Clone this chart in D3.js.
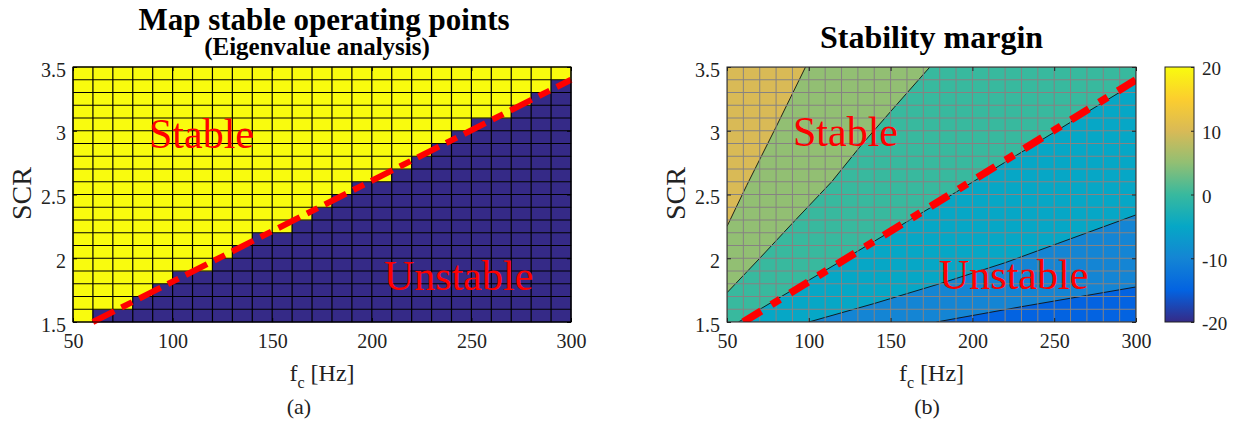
<!DOCTYPE html>
<html>
<head>
<meta charset="utf-8">
<script src="https://cdn.jsdelivr.net/npm/d3@7"></script>
<style>
  html, body { margin: 0; padding: 0; background: #fff; }
  svg text { font-family: "Liberation Serif", "Times New Roman", serif; }
</style>
</head>
<body>
<svg id="fig" width="1244" height="428"></svg>
<script>
// Sweep grid: converter bandwidth f_c [Hz] and short-circuit ratio
const fcEdges = [50,60,70,80,90,100,110,120,130,140,150,160,170,180,190,200,210,220,230,240,250,260,270,280,290,300];
const scrEdges = [1.5,1.6,1.7,1.8,1.9,2.0,2.1,2.2,2.3,2.4,2.5,2.6,2.7,2.8,2.9,3.0,3.1,3.2,3.3,3.4,3.5];

// For every f_c column: SCR up to which the eigenvalue analysis is unstable
const unstableUpTo = [1.5,1.6,1.6,1.7,1.8,1.9,1.9,2.0,2.1,2.2,2.2,2.3,2.4,2.5,2.6,2.6,2.7,2.8,2.9,3.0,3.1,3.1,3.2,3.3,3.4];

// Stability boundary drawn on both maps
const boundaryFc = [60, 300];
const boundaryScr = [1.5, 3.4];

// Axis ticks
const fcTicks = [50,100,150,200,250,300];
const scrTicks = [1.5,2,2.5,3,3.5];
const marginTicks = [-20,-10,0,10,20];

// Stability-margin iso-lines (f_c, SCR)
const contourLevels = [-10, -5, 0, 5, 10];
const contourM10 = [[178,1.5],[230,1.62],[300,1.775]];
const contourM5  = [[100,1.5],[140,1.645],[180,1.8],[220,1.965],[252,2.115],[300,2.34]];
const contour0   = [[57,1.5],[120,1.98],[180,2.44],[240,2.91],[300,3.38]];
const contourP5  = [[50,1.73],[70,2.0],[90,2.275],[114,2.6],[132,2.886],[152,3.18],[174,3.5]];
const contourP10 = [[50,2.25],[62,2.57],[80,3.03],[98,3.5]];
const contourLines = [contourM10, contourM5, contour0, contourP5, contourP10];
const marginLow = -15; // lowest filled band

// parula-like colormap over [-20, 20]
const parula = ["#352a87","#0363e1","#1485d4","#06a7c6","#38b99e","#92bf73","#d9ba56","#fcce2e","#f9fb0e"];
const color = d3.scaleLinear()
  .domain(parula.map((_, i) => -20 + 40 * i / (parula.length - 1)))
  .range(parula)
  .interpolate(d3.interpolateRgb);

const svg = d3.select("#fig");
svg.append("rect").attr("width", 1244).attr("height", 428).attr("fill", "#fff");
const defs = svg.append("defs");

const fcMin = fcEdges[0], fcMax = fcEdges[fcEdges.length - 1];
const scrMin = scrEdges[0], scrMax = scrEdges[scrEdges.length - 1];
const plotTop = 67, plotBottom = 322;

function axes(g, x, y, tickColor) {
  const fmt = d => String(d);
  const xa = g.append("g").attr("transform", `translate(0,${plotBottom})`)
    .call(d3.axisBottom(x).tickValues(fcTicks).tickSize(-4).tickPadding(12).tickFormat(fmt));
  const xt = g.append("g").attr("transform", `translate(0,${plotTop})`)
    .call(d3.axisTop(x).tickValues(fcTicks).tickSize(-4).tickFormat(""));
  const ya = g.append("g").attr("transform", `translate(${x.range()[0]},0)`)
    .call(d3.axisLeft(y).tickValues(scrTicks).tickSize(-4).tickPadding(7).tickFormat(fmt));
  const yr = g.append("g").attr("transform", `translate(${x.range()[1]},0)`)
    .call(d3.axisRight(y).tickValues(scrTicks).tickSize(-4).tickFormat(""));
  [xa, xt, ya, yr].forEach(a => {
    a.select(".domain").remove();
    a.selectAll("line").attr("stroke", tickColor);
    a.selectAll("text").attr("font-size", 20).attr("fill", "#222")
      .attr("font-family", "'Liberation Serif', serif");
  });
  ya.selectAll("text").attr("dy", "0.45em");
}

function labels(g, x, capX, caption) {
  const cx = (x.range()[0] + x.range()[1]) / 2;
  const xl = g.append("text").attr("x", cx).attr("y", 381)
    .attr("text-anchor", "middle").attr("font-size", 24).attr("fill", "#222");
  xl.append("tspan").text("f");
  xl.append("tspan").attr("font-size", 16).attr("dy", 7).text("c");
  xl.append("tspan").attr("dy", -7).text(" [Hz]");
  const yx = x.range()[0] - 42;
  g.append("text").attr("transform", `translate(${yx},${(plotTop + plotBottom) / 2 - 1}) rotate(-90)`)
    .attr("text-anchor", "middle").attr("font-size", 28).attr("fill", "#222").text("SCR");
  g.append("text").attr("x", capX).attr("y", 414).attr("text-anchor", "middle")
    .attr("font-size", 22).attr("fill", "#222").text(caption);
}

function boundary(g, x, y, width, dash) {
  g.append("line")
    .attr("x1", x(boundaryFc[0])).attr("y1", y(boundaryScr[0]))
    .attr("x2", x(boundaryFc[1])).attr("y2", y(boundaryScr[1]))
    .attr("stroke", "#ff0000").attr("stroke-width", width)
    .attr("stroke-dasharray", dash);
}

function regionText(g, txt, px, py) {
  g.append("text").attr("x", px).attr("y", py).attr("font-size", 42)
    .attr("fill", "#ff0000").text(txt);
}

// ---------- (a) stable / unstable map ----------
{
  const x = d3.scaleLinear().domain([fcMin, fcMax]).range([73, 571]);
  const y = d3.scaleLinear().domain([scrMin, scrMax]).range([plotBottom, plotTop]);
  const g = svg.append("g");

  const cells = [];
  for (let i = 0; i < fcEdges.length - 1; i++) {
    for (let j = 0; j < scrEdges.length - 1; j++) {
      cells.push({ f0: fcEdges[i], f1: fcEdges[i + 1], s0: scrEdges[j], s1: scrEdges[j + 1],
                   unstable: scrEdges[j + 1] <= unstableUpTo[i] + 1e-9 });
    }
  }
  g.append("g").selectAll("rect").data(cells).join("rect")
    .attr("x", d => x(d.f0)).attr("y", d => y(d.s1))
    .attr("width", d => x(d.f1) - x(d.f0)).attr("height", d => y(d.s0) - y(d.s1))
    .attr("fill", d => d.unstable ? color(-20) : color(20))
    .attr("stroke", d => d.unstable ? color(-20) : color(20)).attr("stroke-width", 0.6);

  const grid = g.append("g").attr("stroke", "#000").attr("stroke-width", 1.2);
  grid.selectAll("line.v").data(fcEdges).join("line").attr("class", "v")
    .attr("x1", d => x(d)).attr("x2", d => x(d)).attr("y1", plotTop).attr("y2", plotBottom);
  grid.selectAll("line.h").data(scrEdges).join("line").attr("class", "h")
    .attr("y1", d => y(d)).attr("y2", d => y(d)).attr("x1", x(fcMin)).attr("x2", x(fcMax));

  boundary(g, x, y, 6, "24,8,12,8");
  regionText(g, "Stable", 149, 148);
  regionText(g, "Unstable", 384, 290);

  g.append("rect").attr("x", 73).attr("y", plotTop).attr("width", 571 - 73).attr("height", plotBottom - plotTop)
    .attr("fill", "none").attr("stroke", "#000").attr("stroke-width", 1);
  axes(g, x, y, "#000");
  labels(g, x, 299, "(a)");

  g.append("text").attr("x", 324).attr("y", 30).attr("text-anchor", "middle")
    .attr("font-size", 31).attr("font-weight", "bold").attr("fill", "#000")
    .text("Map stable operating points");
  g.append("text").attr("x", 317).attr("y", 55).attr("text-anchor", "middle")
    .attr("font-size", 25).attr("font-weight", "bold").attr("fill", "#000")
    .text("(Eigenvalue analysis)");
}

// ---------- (b) stability margin ----------
{
  const x = d3.scaleLinear().domain([fcMin, fcMax]).range([727, 1136]);
  const y = d3.scaleLinear().domain([scrMin, scrMax]).range([plotBottom, plotTop]);
  const g = svg.append("g");

  defs.append("clipPath").attr("id", "clipB")
    .append("rect").attr("x", 727).attr("y", plotTop).attr("width", 1136 - 727).attr("height", plotBottom - plotTop);
  const plot = g.append("g").attr("clip-path", "url(#clipB)");

  // filled bands: everything starts in the lowest band, each iso-line lifts the region above it
  plot.append("rect").attr("x", 727).attr("y", plotTop).attr("width", 1136 - 727).attr("height", plotBottom - plotTop)
    .attr("fill", color(marginLow));
  const regionAbove = line => {
    const pts = line.slice();
    const s = pts[0], e = pts[pts.length - 1];
    if (e[0] >= fcMax) pts.push([fcMax, scrMax]);
    pts.push([fcMin, scrMax]);
    if (s[1] <= scrMin && s[0] > fcMin) pts.push([fcMin, scrMin]);
    return pts;
  };
  const path = d3.line().x(d => x(d[0])).y(d => y(d[1]));
  const bands = contourLevels.map((lv, k) => ({ level: lv, line: contourLines[k] }));
  plot.selectAll("path.band").data(bands).join("path").attr("class", "band")
    .attr("d", d => path(regionAbove(d.line)) + "Z")
    .attr("fill", d => color(d.level));
  plot.selectAll("path.iso").data(bands).join("path").attr("class", "iso")
    .attr("d", d => path(d.line)).attr("fill", "none")
    .attr("stroke", "#111").attr("stroke-width", 0.9);

  const grid = plot.append("g").attr("stroke", "#868282").attr("stroke-width", 1);
  grid.selectAll("line.v").data(fcEdges).join("line").attr("class", "v")
    .attr("x1", d => x(d)).attr("x2", d => x(d)).attr("y1", plotTop).attr("y2", plotBottom);
  grid.selectAll("line.h").data(scrEdges).join("line").attr("class", "h")
    .attr("y1", d => y(d)).attr("y2", d => y(d)).attr("x1", x(fcMin)).attr("x2", x(fcMax));

  boundary(plot, x, y, 7.5, "21,12,10,12");
  regionText(plot, "Stable", 793, 146);
  regionText(plot, "Unstable", 939, 289);

  g.append("rect").attr("x", 727).attr("y", plotTop).attr("width", 1136 - 727).attr("height", plotBottom - plotTop)
    .attr("fill", "none").attr("stroke", "#222").attr("stroke-width", 1);
  axes(g, x, y, "#222");
  labels(g, x, 927, "(b)");

  g.append("text").attr("x", 931.5).attr("y", 48).attr("text-anchor", "middle")
    .attr("font-size", 32).attr("font-weight", "bold").attr("fill", "#000")
    .text("Stability margin");

  // colorbar
  const cb = d3.scaleLinear().domain([-20, 20]).range([plotBottom, plotTop]);
  const grad = defs.append("linearGradient").attr("id", "cbGrad")
    .attr("x1", 0).attr("y1", 1).attr("x2", 0).attr("y2", 0);
  parula.forEach((c, i) => grad.append("stop")
    .attr("offset", i / (parula.length - 1)).attr("stop-color", c));
  g.append("rect").attr("x", 1165).attr("y", plotTop).attr("width", 29).attr("height", plotBottom - plotTop)
    .attr("fill", "url(#cbGrad)").attr("stroke", "#222").attr("stroke-width", 1);
  const ca = g.append("g").attr("transform", "translate(1194,0)")
    .call(d3.axisRight(cb).tickValues(marginTicks).tickSize(-3).tickPadding(8).tickFormat(d => String(d)));
  ca.select(".domain").remove();
  ca.selectAll("line").attr("stroke", "#222");
  ca.selectAll("text").attr("font-size", 19).attr("fill", "#222")
    .attr("font-family", "'Liberation Serif', serif").attr("dy", "0.42em");
}
</script>
</body>
</html>
